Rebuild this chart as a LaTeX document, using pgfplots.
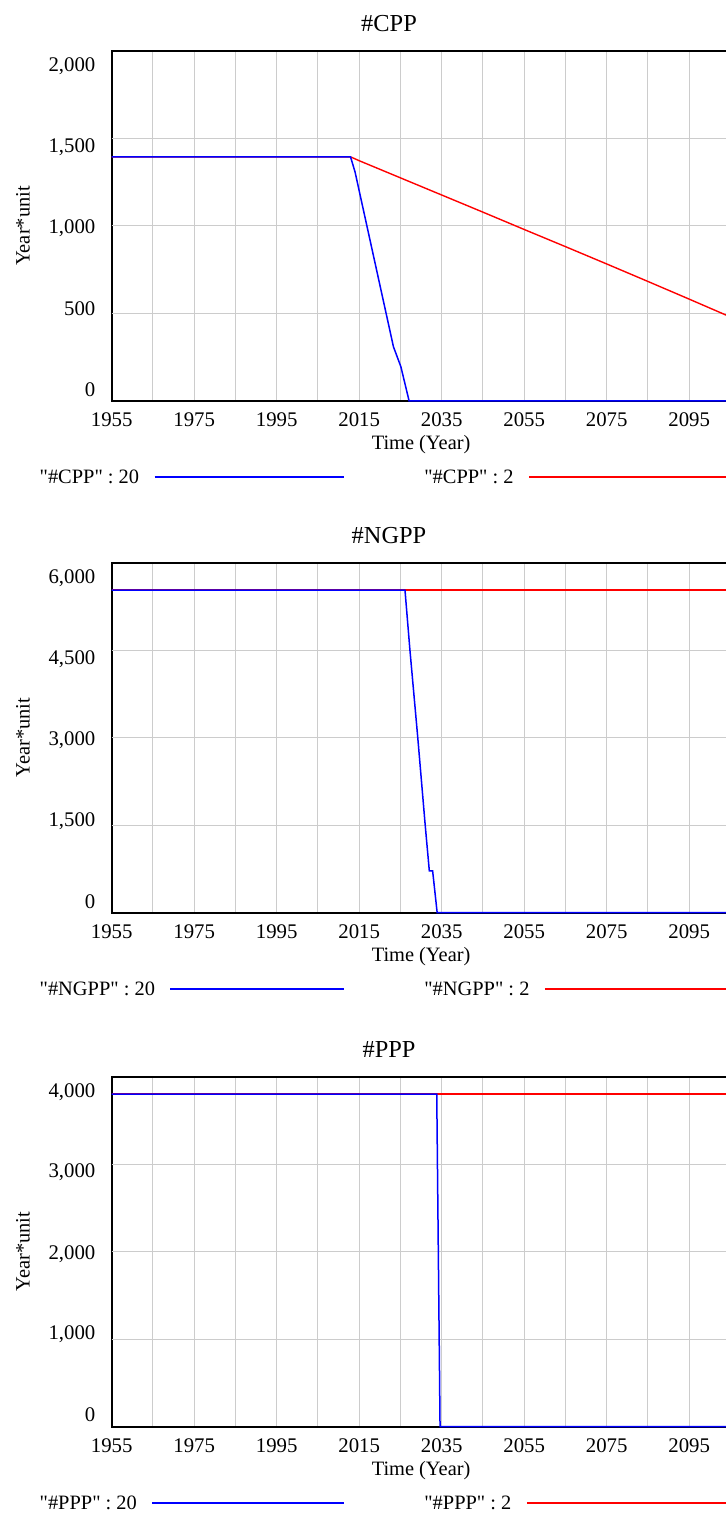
\documentclass[border=0pt]{standalone}
\usepackage{fontspec}
\setmainfont{Liberation Serif}
\usepackage{pgfplots}
\pgfplotsset{compat=1.18}
\usetikzlibrary{calc}

\newcommand\tickfont{\fontsize{10.4pt}{12pt}\selectfont}
\newcommand\labfont{\fontsize{10.2pt}{12pt}\selectfont}
\newcommand\titfont{\fontsize{12.2pt}{14pt}\selectfont}
\newcommand\qq{\XeTeXglyph\XeTeXcharglyph"22\relax}

\pgfplotsset{
  vensim/.style={
    scale only axis, width=309.375pt, height=175pt,
    anchor=south west,
    xmin=1955, xmax=2105,
    xtick={1955,1975,1995,2015,2035,2055,2075,2095},
    xticklabels={1955,1975,1995,2015,2035,2055,2075,2095},
    minor xtick={1965,1985,2005,2025,2045,2065,2085,2105},
    xmajorgrids=true, xminorgrids=true, ymajorgrids=false,
    major grid style={draw=black!20, line width=0.5pt},
    minor grid style={draw=black!20, line width=0.5pt},
    major tick length=0pt, minor tick length=0pt,
    tick style={draw=none},
    axis line style={line width=1pt, black},
    xticklabel style={font=\tickfont, anchor=center, yshift=-9.5pt},
    yticklabel style={font=\tickfont, anchor=east, inner sep=0pt, text depth=0pt, xshift=-8pt},
    extra y tick labels={},
    extra y tick style={grid=major},
    ylabel={Year*unit},
    xlabel={Time (Year)},
    every axis y label/.style={at={(axis description cs:-0.1434,0.5)}, rotate=90, anchor=center, font=\labfont},
    every axis x label/.style={at={(axis description cs:0.5,-0.1257)}, anchor=center, font=\labfont},
    title style={at={(axis description cs:0.4482,1.02)}, anchor=base, font=\titfont},
    clip=false,
  },
  redline/.style={red, line width=0.7pt},
  blueline/.style={blue, line width=0.75pt},
}

\begin{document}
\begin{tikzpicture}

% ---------- CPP ----------
\begin{axis}[vensim, at={(55.85pt,557pt)}, title={\#CPP},
  ymin=0, ymax=2000,
  ytick={65.7,530,994.3,1458.6,1922.9},
  yticklabels={0,500,{1,000},{1,500},{2,000}},
  extra y ticks={500,1000,1500}]
\addplot[redline] coordinates {
(1955,1395) (2012.9,1395) (2015,1373) (2025,1275) (2035,1177) (2045,1079)
(2055,980) (2065,882) (2075,783) (2085,683) (2095,582) (2105,480)};
\addplot[blueline] coordinates {
(1955,1395) (2012.9,1395) (2014.0,1308) (2023.3,310) (2025.1,196) (2027.1,0) (2105,0)};
\end{axis}

% ---------- NGPP ----------
\begin{axis}[vensim, at={(55.85pt,301.15pt)}, title={\#NGPP},
  ymin=0, ymax=6000,
  ytick={190,1592,2993,4379,5762},
  yticklabels={0,{1,500},{3,000},{4,500},{6,000}},
  extra y ticks={1500,3000,4500}]
\addplot[redline] coordinates {(1955,5530) (2105,5530)};
\addplot[blueline] coordinates {
(1955,5530) (2026.1,5530) (2027.3,4500) (2029.2,3000) (2031.0,1500) (2032.0,716)
(2032.8,716) (2033.9,0) (2105,0)};
\end{axis}

% ---------- PPP ----------
\begin{axis}[vensim, at={(55.85pt,44.15pt)}, title={\#PPP},
  ymin=0, ymax=4000,
  ytick={138,1075,1995,2925,3836},
  yticklabels={0,{1,000},{2,000},{3,000},{4,000}},
  extra y ticks={1000,2000,3000}]
\addplot[redline] coordinates {(1955,3800) (2105,3800)};
\addplot[blueline] coordinates {
(1955,3800) (2033.8,3800) (2034.6,0) (2105,0)};
\end{axis}

% ---------- legends ----------
\foreach \nm/\yc in {CPP/519.15, NGPP/263.15, PPP/6.15}{
  \coordinate (c) at (0pt,\yc pt);
  \node[anchor=base west, inner sep=0pt, font=\labfont] (la) at (19.65pt,{(\yc-3.3)*1pt}) {\qq\#\nm\qq{} : 20};
  \draw[blue, line width=1pt] ($(la.east |- c)+(7.5pt,0pt)$) -- (171.75pt,\yc pt);
  \node[anchor=base west, inner sep=0pt, font=\labfont] (lb) at (212pt,{(\yc-3.3)*1pt}) {\qq\#\nm\qq{} : 2};
  \draw[red, line width=1pt] ($(lb.east |- c)+(7.5pt,0pt)$) -- (367.5pt,\yc pt);
}

\pgfresetboundingbox
\useasboundingbox (0pt,0pt) rectangle (362.5pt,757.5pt);
\end{tikzpicture}
\end{document}
